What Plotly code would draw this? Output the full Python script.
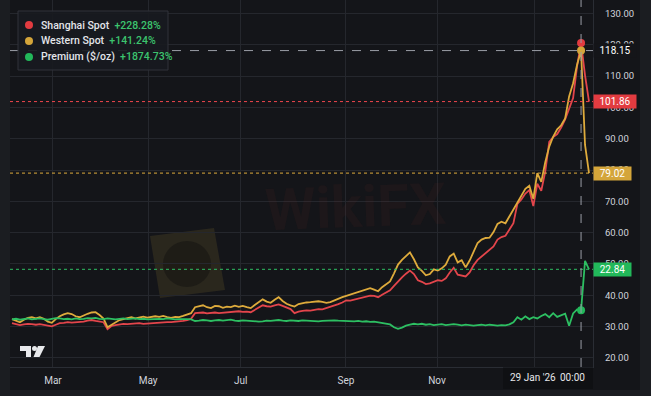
import plotly.graph_objects as go

W, H = 651, 396
ML, MR, MT, MB = 10, 58, 0, 29

# ---------------- data ----------------
shanghai = [
    31.1, 30.8, 30.5, 30.7, 30.9, 30.8, 30.6, 30.8, 30.5, 30.2,
    30.1, 30.6, 31.1, 31.2, 31.4, 31.3, 31.4, 31.4, 31.6, 31.9,
    32.1, 31.8, 31.7, 31.4, 29.2, 30.2, 30.5, 30.8, 30.9, 30.8,
    30.9, 31.0, 31.1, 30.9, 31.0, 31.1, 31.2, 31.4, 31.3, 31.4,
    31.4, 31.5, 31.7, 31.8, 32.1, 32.5, 34.3, 34.3, 34.5, 34.2,
    34.3, 34.5, 34.3, 34.4, 34.6, 34.6, 34.8, 34.9, 34.7, 34.8,
    34.6, 35.3, 36.2, 36.8, 36.5, 36.4, 36.8, 37.1, 36.6, 36.0,
    35.6, 34.3, 34.8, 35.0, 35.2, 35.1, 35.4, 35.6, 35.5, 35.9,
    36.2, 36.6, 37.2, 37.7, 38.4, 38.3, 38.6, 38.9, 39.3, 39.6,
    39.9, 39.8, 39.4, 40.2, 40.8, 41.6, 43.0, 44.5, 45.7, 46.9,
    47.9, 46.8, 44.8, 44.3, 43.6, 43.8, 44.3, 44.8, 44.6, 45.4,
    47.3, 48.8, 46.6, 46.2, 46.0, 47.3, 49.6, 51.3, 52.4, 53.4,
    54.3, 55.6, 57.8, 58.6, 59.0, 60.8, 63.0, 69.2, 70.6, 72.5,
    73.6, 68.5, 75.6, 73.4, 79.5, 89.0, 90.5, 91.5, 93.6, 96.2,
    99.7, 103.0, 113.2, 120.6, 110.2, 101.86,
]
western = [
    32.4, 32.0, 31.4, 32.2, 32.8, 33.0, 32.6, 33.0, 32.5, 31.6,
    31.2, 32.4, 33.3, 33.9, 34.3, 34.0, 33.3, 33.0, 33.6, 34.1,
    34.5, 34.6, 33.7, 32.6, 29.8, 30.6, 31.4, 32.1, 32.4, 32.8,
    33.0, 32.6, 32.8, 33.2, 32.9, 33.0, 33.3, 33.1, 33.4, 33.0,
    32.8, 33.1, 33.0, 33.4, 33.8, 34.3, 36.2, 36.5, 36.8, 36.2,
    35.9, 36.6, 36.5, 36.0, 36.4, 36.2, 36.7, 36.3, 36.6, 36.2,
    35.9, 36.9, 37.9, 38.7, 38.0, 37.6, 38.6, 39.4, 38.2, 37.3,
    36.8, 36.4, 37.2, 37.5, 37.7, 37.8, 38.0, 38.1, 37.9, 37.6,
    37.8, 38.4, 39.0, 39.4, 39.8, 40.2, 40.5, 40.9, 41.5, 41.9,
    42.3, 41.8, 41.3, 42.6, 43.6, 44.4, 47.0, 49.8, 51.3, 52.6,
    53.7, 51.5, 48.9, 47.8, 46.4, 46.8, 48.3, 47.9, 48.6, 49.8,
    52.4, 53.3, 50.5, 51.2, 48.9, 51.1, 53.8, 56.7, 57.8, 58.3,
    58.4, 60.2, 62.8, 63.5, 63.0, 65.2, 67.2, 69.5, 71.4, 74.0,
    75.0, 70.8, 79.0, 76.2, 82.5, 87.5, 90.7, 93.0, 94.3, 96.5,
    103.5, 107.7, 113.6, 118.15, 88.0, 79.02,
]
premium = [
    32.3, 32.5, 32.2, 32.4, 32.6, 32.3, 32.5, 32.6, 32.4, 32.2,
    32.5, 32.7, 32.6, 32.4, 32.5, 32.3, 32.6, 32.4, 32.5, 32.7,
    32.6, 32.8, 32.5, 32.4, 32.6, 32.5, 32.3, 32.5, 32.6, 32.4,
    32.5, 32.6, 32.4, 32.5, 32.3, 32.4, 32.6, 32.5, 32.4, 32.6,
    32.5, 32.3, 32.4, 32.5, 32.4, 32.3, 31.8, 31.9, 32.1, 32.0,
    31.8, 32.0, 32.1, 31.9, 32.0, 32.2, 31.9, 31.8, 32.0, 31.9,
    31.7, 31.8, 31.6, 31.7, 31.9, 31.8, 32.0, 32.1, 31.9, 31.8,
    32.0, 31.9, 31.8, 32.0, 31.9, 31.8, 31.9, 31.7, 31.8, 31.9,
    31.8, 32.0, 31.9, 31.8, 31.9, 31.8, 31.7, 31.8, 31.6, 31.7,
    31.5, 31.6, 31.4, 31.2, 31.0, 30.7, 29.8, 29.3, 29.7, 30.3,
    30.6, 30.9, 30.7, 30.9, 30.6, 30.8, 30.5, 30.7, 30.8, 30.5,
    30.7, 30.8, 30.6, 30.4, 30.6, 30.5, 30.3, 30.5, 30.6, 30.4,
    30.6, 30.5, 30.3, 30.5, 30.4, 30.7, 31.4, 33.0, 32.2, 33.3,
    32.4, 33.0, 32.6, 33.4, 34.0, 33.0, 34.3, 33.1, 33.6, 34.1,
    30.3, 34.2, 35.5, 35.2, 51.0, 48.3,
]
bars = list(range(len(shanghai)))

series_names = ["Shanghai Spot", "Western Spot", "Premium ($/oz)"]
series_changes = ["+228.28%", "+141.24%", "+1874.73%"]
last_labels = ["101.86", "79.02", "22.84"]
crosshair_bar = 143
crosshair_label = "118.15"

x_tick_bars = [10.3, 34.2, 57.5, 83.9, 106.8, 131.4]
x_tick_text = ["Mar", "May", "Jul", "Sep", "Nov", ""]
x_extra_bars = [131.0, 140.9]
x_extra_text = ["29 Jan '26", "00:00"]
y_ticks = [20, 30, 40, 50, 60, 70, 80, 90, 100, 110, 120, 130]

# ---------------- style ----------------
RED, GOLD, GREEN = "#e3454b", "#deab3c", "#2dbf62"
RED_BOX, GOLD_BOX, GREEN_BOX = "#e23b40", "#d4a53a", "#22b85a"
BG, FRAME, GRID = "#141519", "#1b1d21", "#25272d"
TXT = "#d1d4dc"
FONT = "Roboto, Liberation Sans, sans-serif"

PW = W - ML - MR
PH = H - MT - MB


def xp(px):
    return (px - ML) / PW


def yp(py):
    return (H - MB - py) / PH


fig = go.Figure()
cols = [RED, GOLD, GREEN]
for name, vals, c in zip(series_names, [shanghai, western, premium], cols):
    fig.add_trace(go.Scatter(x=bars, y=vals, mode="lines", name=name,
                             line=dict(color=c, width=1.8), hoverinfo="skip",
                             showlegend=False))

# crosshair markers
for vals, c in zip([shanghai, western, premium], [RED_BOX, GOLD_BOX, GREEN_BOX]):
    fig.add_trace(go.Scatter(x=[bars[crosshair_bar]], y=[vals[crosshair_bar]],
                             mode="markers", marker=dict(color=c, size=8),
                             hoverinfo="skip", showlegend=False))

shapes = []
# chart panel background over the frame
shapes.append(dict(type="rect", xref="paper", yref="paper", x0=xp(10), x1=xp(640),
                   y0=yp(390), y1=yp(0), fillcolor=BG, line_width=0, layer="below"))
# watermark
wm = [(150, 236), (214, 228), (225, 290), (160, 298)]
shapes.append(dict(type="path", xref="paper", yref="paper",
                   path="M" + " L".join(f"{xp(a)},{yp(b)}" for a, b in wm) + " Z",
                   fillcolor="rgba(190,160,60,0.13)", line_width=0, layer="below"))
shapes.append(dict(type="circle", xref="paper", yref="paper", x0=xp(163), x1=xp(211),
                   y0=yp(287), y1=yp(241), fillcolor="rgba(10,10,12,0.35)", line_width=0,
                   layer="below"))
# last-value dotted lines
last_levels = [shanghai[-1], western[-1], premium[-1]]
for lvl, c in zip(last_levels, ["#f0474d", GOLD, GREEN]):
    shapes.append(dict(type="line", xref="paper", yref="y", x0=0, x1=1, y0=lvl, y1=lvl,
                       line=dict(color=c, width=1, dash="dot")))
# crosshair
shapes.append(dict(type="line", xref="paper", yref="y", x0=0, x1=1,
                   y0=western[crosshair_bar], y1=western[crosshair_bar],
                   line=dict(color="#9a9da6", width=1, dash="dash")))
shapes.append(dict(type="line", xref="x", yref="paper", x0=crosshair_bar, x1=crosshair_bar,
                   y0=0, y1=1, line=dict(color="#9a9da6", width=1, dash="dash")))
# dark box behind last date labels
shapes.append(dict(type="rect", xref="paper", yref="paper", x0=xp(503), x1=xp(593),
                   y0=yp(389), y1=yp(367.5), fillcolor="#0f1013", line_width=0))
# legend box
shapes.append(dict(type="rect", xref="paper", yref="paper", x0=xp(18), x1=xp(168),
                   y0=yp(70), y1=yp(11), fillcolor="rgba(24,26,31,0.92)",
                   line=dict(color="#30333b", width=1)))
for k, c in enumerate([RED_BOX, GOLD_BOX, GREEN_BOX]):
    cy = 25 + 16 * k
    shapes.append(dict(type="circle", xref="paper", yref="paper", x0=xp(25), x1=xp(33),
                       y0=yp(cy + 4), y1=yp(cy - 4), fillcolor=c, line_width=0))
# TradingView logo
p1 = [(20, 346), (31, 346), (31, 357), (26, 357), (26, 351), (20, 351)]
p2 = [(38, 346), (45, 346), (39.5, 357), (33.5, 357)]
for poly in (p1, p2):
    shapes.append(dict(type="path", xref="paper", yref="paper",
                       path="M" + " L".join(f"{xp(a)},{yp(b)}" for a, b in poly) + " Z",
                       fillcolor="#e8e9ec", line_width=0))
shapes.append(dict(type="circle", xref="paper", yref="paper", x0=xp(32), x1=xp(37),
                   y0=yp(351), y1=yp(346), fillcolor="#e8e9ec", line_width=0))

ann = []
ann.append(dict(text="<b>WikiFX</b>", xref="paper", yref="paper", x=xp(355), y=yp(246),
                showarrow=False, font=dict(family=FONT, size=58, color="rgba(140,50,40,0.08)"),
                textangle=-2))
for k, (nm, ch) in enumerate(zip(series_names, series_changes)):
    cy = 25 + 16 * k
    ann.append(dict(text=f"{nm}&nbsp;&nbsp;<span style='color:#3cc46e'>{ch}</span>",
                    xref="paper", yref="paper", x=xp(39), y=yp(cy), xanchor="left",
                    yanchor="middle", showarrow=False,
                    font=dict(family=FONT, size=10.5, color="#e3e5ea", weight=500)))
widths = [42, 37, 37]
for lbl, lvl, c, w in zip(last_labels, last_levels, [RED_BOX, GOLD_BOX, GREEN_BOX], widths):
    ann.append(dict(text=lbl, xref="paper", yref="y", x=1.0, y=lvl, xanchor="left",
                    yanchor="middle", showarrow=False, bgcolor=c, width=w, height=13,
                    borderpad=0, align="center", font=dict(family=FONT, size=10, color="#ffffff")))
ann.append(dict(text=crosshair_label, xref="paper", yref="y", x=1.0, y=western[crosshair_bar],
                xanchor="left", yanchor="middle", showarrow=False, bgcolor=BG, width=42,
                height=13, borderpad=0, align="center",
                font=dict(family=FONT, size=10, color="#ffffff")))
for xb, t in zip(x_extra_bars, x_extra_text):
    ann.append(dict(text=t, xref="x", yref="paper", x=xb, y=yp(378), xanchor="center",
                    yanchor="middle", showarrow=False, font=dict(family=FONT, size=10, color="#e6e7ea")))

fig.update_layout(
    width=W, height=H, margin=dict(l=ML, r=MR, t=MT, b=MB, autoexpand=False),
    paper_bgcolor=FRAME, plot_bgcolor=BG, shapes=shapes, annotations=ann,
    showlegend=False, hovermode=False,
    xaxis=dict(range=[-0.5, 146.0], tickmode="array", tickvals=x_tick_bars, ticktext=x_tick_text,
               showgrid=True, gridcolor=GRID, gridwidth=1, zeroline=False, showline=True,
               linecolor="#2a2d34", linewidth=1, ticks="", automargin=False,
               tickfont=dict(family=FONT, size=10, color=TXT), ticklabelstandoff=4,
               fixedrange=True),
    yaxis=dict(range=[17.1, 134.3], side="right", tickmode="array", tickvals=y_ticks,
               ticktext=[f"{v:.2f}" for v in y_ticks], showgrid=True, gridcolor=GRID,
               zeroline=False, showline=True, linecolor="#2a2d34", linewidth=1, ticks="",
               automargin=False, tickfont=dict(family=FONT, size=9.5, color=TXT),
               ticklabelstandoff=9, fixedrange=True),
)

fig.write_html("out.html", config={"displayModeBar": False},
               post_script="document.body.style.margin='0px';document.body.style.background='#1b1d21';")
